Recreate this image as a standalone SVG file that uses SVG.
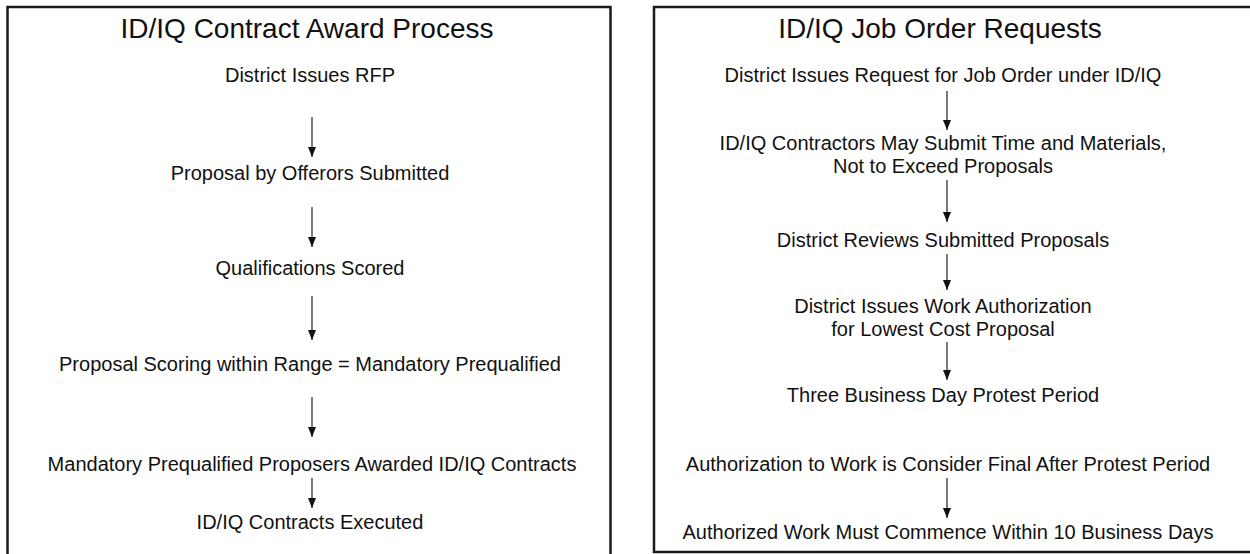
<svg xmlns="http://www.w3.org/2000/svg" width="1250" height="554" viewBox="0 0 1250 554">
  <style>
    .frame { fill: #fff; stroke: #1a1a1a; stroke-width: 2.5; }
    .title { font-family: "Liberation Sans", Arial, sans-serif; font-size: 28px; fill: #111; text-anchor: middle; }
    .step { font-family: "Liberation Sans", Arial, sans-serif; font-size: 20px; fill: #111; text-anchor: middle; }
    .link { stroke: #333; stroke-width: 1.3; fill: none; marker-end: url(#head); }
  </style>
  <defs>
    <marker id="head" viewBox="0 0 10 8" refX="10" refY="4" markerWidth="10" markerHeight="8" markerUnits="userSpaceOnUse" orient="auto">
      <path d="M0,0 L10,4 L0,8 Z" fill="#111"/>
    </marker>
  </defs>
  <rect width="1250" height="554" fill="#fff"/>

  <!-- panel frames -->
  <rect class="frame" x="7.5" y="7" width="603" height="560"/>
  <rect class="frame" x="654" y="7" width="610" height="545"/>

  <!-- left panel: award process -->
  <g id="award-title"><text class="title" x="307" y="38">ID/IQ Contract Award Process</text></g>
  <g id="award-rfp"><text class="step" x="310" y="82">District Issues RFP</text></g>
  <g id="award-proposal"><text class="step" x="310" y="180">Proposal by Offerors Submitted</text></g>
  <g id="award-scored"><text class="step" x="310" y="275">Qualifications Scored</text></g>
  <g id="award-range"><text class="step" x="310" y="371">Proposal Scoring within Range = Mandatory Prequalified</text></g>
  <g id="award-awarded"><text class="step" x="312" y="471">Mandatory Prequalified Proposers Awarded ID/IQ Contracts</text></g>
  <g id="award-executed"><text class="step" x="310" y="529">ID/IQ Contracts Executed</text></g>

  <!-- right panel: job order requests -->
  <g id="job-title"><text class="title" x="940" y="38">ID/IQ Job Order Requests</text></g>
  <g id="job-request"><text class="step" x="943" y="82">District Issues Request for Job Order under ID/IQ</text></g>
  <g id="job-submit">
    <text class="step" x="943" y="150">ID/IQ Contractors May Submit Time and Materials,</text>
    <text class="step" x="943" y="173">Not to Exceed Proposals</text>
  </g>
  <g id="job-review"><text class="step" x="943" y="247">District Reviews Submitted Proposals</text></g>
  <g id="job-authorize">
    <text class="step" x="943" y="313">District Issues Work Authorization</text>
    <text class="step" x="943" y="336">for Lowest Cost Proposal</text>
  </g>
  <g id="job-protest"><text class="step" x="943" y="402">Three Business Day Protest Period</text></g>
  <g id="job-final"><text class="step" x="948" y="471">Authorization to Work is Consider Final After Protest Period</text></g>
  <g id="job-commence"><text class="step" x="948" y="539">Authorized Work Must Commence Within 10 Business Days</text></g>

  <!-- connectors -->
  <g id="connectors">
    <line class="link" x1="312" y1="117" x2="312" y2="157"/>
    <line class="link" x1="312" y1="207" x2="312" y2="247"/>
    <line class="link" x1="312" y1="296" x2="312" y2="340"/>
    <line class="link" x1="312" y1="397" x2="312" y2="437"/>
    <line class="link" x1="312" y1="478" x2="312" y2="508"/>
    <line class="link" x1="947" y1="91" x2="947" y2="130"/>
    <line class="link" x1="947" y1="180" x2="947" y2="222"/>
    <line class="link" x1="947" y1="254" x2="947" y2="290"/>
    <line class="link" x1="947" y1="342" x2="947" y2="380"/>
    <line class="link" x1="947" y1="478" x2="947" y2="518"/>
  </g>
</svg>
